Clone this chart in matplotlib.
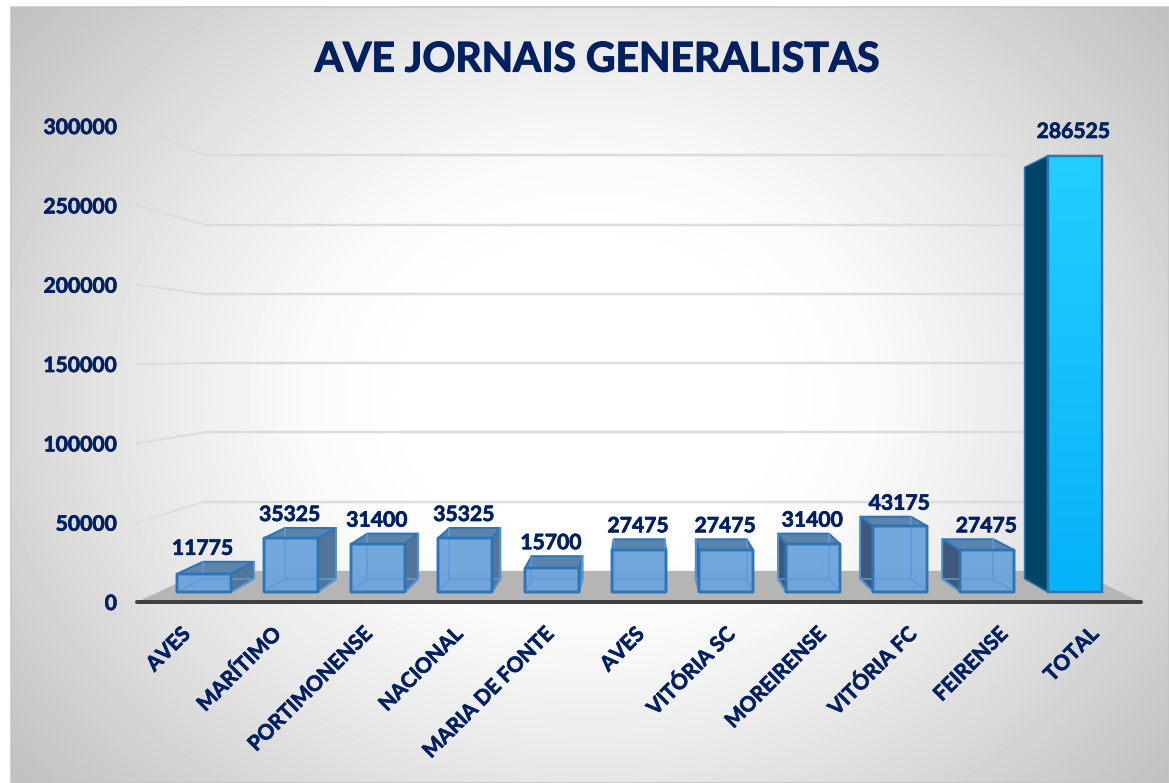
import numpy as np
import matplotlib
matplotlib.use("Agg")
import matplotlib.pyplot as plt
import matplotlib.patheffects as pe
from matplotlib.patches import Polygon, Rectangle
from matplotlib.transforms import ScaledTranslation

# ---- data ----
categories = ["AVES", "MARÍTIMO", "PORTIMONENSE", "NACIONAL", "MARIA DE FONTE", "AVES",
              "VITÓRIA SC", "MOREIRENSE", "VITÓRIA FC", "FEIRENSE", "TOTAL"]
values = [11775, 35325, 31400, 35325, 15700, 27475, 27475, 31400, 43175, 27475, 286525]
y_ticks = [0, 50000, 100000, 150000, 200000, 250000, 300000]
title = "AVE JORNAIS GENERALISTAS"

# ---- style / layout ----
W, H = 1169, 783
NAVY = "#002060"
FONT = "Lato"
plt.rcParams["font.family"] = [FONT, "DejaVu Sans"]
plt.rcParams["font.weight"] = "bold"

fig = plt.figure(figsize=(W / 100, H / 100), dpi=100, facecolor="white")
px = 72 / 100  # one pixel in points
THICK = [pe.withStroke(linewidth=0.7 * px, foreground=NAVY)]
THICK_T = [pe.withStroke(linewidth=1.2 * px, foreground=NAVY)]

# background panel with a radial gradient
bg = fig.add_axes([0, 0, 1, 1], zorder=-1)
bg.set_xlim(0, W); bg.set_ylim(H, 0); bg.axis("off")
xx, yy = np.meshgrid(np.arange(11, W), np.arange(7, H))
r = np.sqrt(((xx - 590) / 580.0) ** 2 + ((yy - 395) / 480.0) ** 2)
shade = np.interp(r, [0.3, 0.5, 0.8, 1.0, 1.28], [255, 250, 230, 214, 192]) / 255
bg.imshow(shade, extent=(11, W, H, 7), cmap="gray", vmin=0, vmax=1, aspect="auto",
          interpolation="bilinear")
bg.add_patch(Rectangle((11, 7), W - 11, H - 7, fill=False, ec="#c4c4c4", lw=1.5 * px))
bg.set_xlim(0, W); bg.set_ylim(H, 0)

# plot box = the front plane of the floor
ax = fig.add_axes([137 / W, 1 - 602 / H, (1141 - 137) / W, (602 - 126) / H])
ax.patch.set_visible(False)
for s in ax.spines.values():
    s.set_visible(False)
XMIN, XMAX = -0.53, 10.527
WALL_X = XMIN + 0.04
ax.set_xlim(XMIN, XMAX)
ax.set_ylim(0, 300000)

# perspective: depth pulls a point towards the vanishing point
VX, VY = 5.0, 154430.0
Z_FRONT, Z_BACK, Z_WALL = 0.041, 0.095, 0.127
BAR_W = 0.62


def proj(x, v, z):
    return (x + (VX - x) * z, v + (VY - v) * z)


def poly(points, **kw):
    ax.add_patch(Polygon(points, closed=True, clip_on=False, **kw))


# floor
poly([proj(XMIN, 0, 0), proj(XMAX, 0, 0), proj(XMAX, 0, Z_WALL), proj(WALL_X, 0, Z_WALL)],
     fc="#b5b5b5", ec="none", zorder=2)
ax.plot([XMIN, XMAX], [0, 0], color="#404040", lw=4 * px, solid_capstyle="round",
        clip_on=False, zorder=3)

# gridlines on the side and back walls
for t in y_ticks[1:]:
    a, b, c = proj(XMIN, t, 0), proj(WALL_X, t, Z_WALL), proj(XMAX, t, Z_WALL)
    ax.plot([a[0], b[0]], [a[1], b[1]], color="#dcdcdc", lw=2 * px, clip_on=False, zorder=1)
    ax.plot([b[0], c[0]], [b[1], c[1]], color="#dcdcdc", lw=2.5 * px, clip_on=False, zorder=1)

EDGE = "#2e75b6"
for i, v in enumerate(values):
    xl, xr = i - BAR_W / 2, i + BAR_W / 2
    fbl, fbr, ftr, ftl = [proj(x, y, Z_FRONT) for x, y in ((xl, 0), (xr, 0), (xr, v), (xl, v))]
    bbl, bbr, btr, btl = [proj(x, y, Z_BACK) for x, y in ((xl, 0), (xr, 0), (xr, v), (xl, v))]
    total = categories[i] == "TOTAL"
    z = 5 + i * 0.01
    if total:
        poly([bbl, fbl, ftl, btl], fc="#004563", ec=EDGE, lw=1.5 * px, zorder=z)
        grad = np.linspace(0, 1, 256).reshape(-1, 1)
        cols = np.array([[0x22, 0xCF, 0xFF]]) * (1 - grad) + np.array([[0x06, 0xB2, 0xF8]]) * grad
        im = ax.imshow((cols.reshape(256, 1, 3)).astype(np.uint8),
                       extent=(ftl[0], ftr[0], fbl[1], ftl[1]), aspect="auto", zorder=z + 0.001)
        poly([fbl, fbr, ftr, ftl], fc="none", ec=EDGE, lw=2.5 * px, zorder=z + 0.002)
        ax.set_xlim(XMIN, XMAX); ax.set_ylim(0, 300000)
    else:
        if xr < VX:
            poly([fbr, bbr, btr, ftr], fc="#527599", ec=EDGE, lw=2 * px, joinstyle="round", zorder=z)
        if xl > VX:
            poly([bbl, fbl, ftl, btl], fc="#40597a", ec=EDGE, lw=2 * px, joinstyle="round", zorder=z)
        poly([ftl, ftr, btr, btl], fc="#5b83ab", ec=EDGE, lw=2 * px, joinstyle="round", zorder=z + 0.001)
        poly([fbl, fbr, ftr, ftl], fc="#6fa5dc", ec=EDGE, lw=2.5 * px, alpha=0.97,
             joinstyle="round", zorder=z + 0.002)
        # edges seen through the front face
        for p, q in ((bbl, bbr), (bbl, btl), (bbr, btr), (fbl, bbl), (fbr, bbr)):
            ax.plot([p[0], q[0]], [p[1], q[1]], color="#5e9ad8", lw=1.5 * px, clip_on=False,
                    zorder=z + 0.003)
        poly([fbl, fbr, ftr, ftl], fc="none", ec=EDGE, lw=2.5 * px, joinstyle="round", zorder=z + 0.004)

    # value label
    top = max(ftl[1], btl[1])
    ax.annotate(f"{v}", xy=(0.5 * (ftl[0] + ftr[0]), top), xytext=(-1 * px, (24 if total else 13) * px),
                textcoords="offset points", ha="center", va="center", fontsize=15.2,
                fontweight="bold", color=NAVY, annotation_clip=False, zorder=20,
                path_effects=THICK)

# axes ticks
ax.set_yticks(y_ticks)
ax.set_yticklabels([str(t) for t in y_ticks], fontsize=15.2, fontweight="bold", color=NAVY,
                   path_effects=THICK)
ax.tick_params(axis="y", length=0, pad=20 * px)
ax.set_xticks(range(len(categories)))
ax.set_xticklabels(categories, rotation=45, ha="right", va="top", rotation_mode="anchor",
                   fontsize=15, fontweight="bold", color=NAVY, path_effects=THICK)
ax.tick_params(axis="x", length=0, pad=22 * px)
shift = ScaledTranslation(-5 / 100, 0, fig.dpi_scale_trans)
for lab in ax.get_xticklabels():
    lab.set_transform(lab.get_transform() + shift)

fig.text(597 / W, 1 - 60 / H, title, ha="center", va="center", fontsize=29.4,
         fontweight="bold", color=NAVY, path_effects=THICK_T)

fig.savefig("out.png", dpi=100)
